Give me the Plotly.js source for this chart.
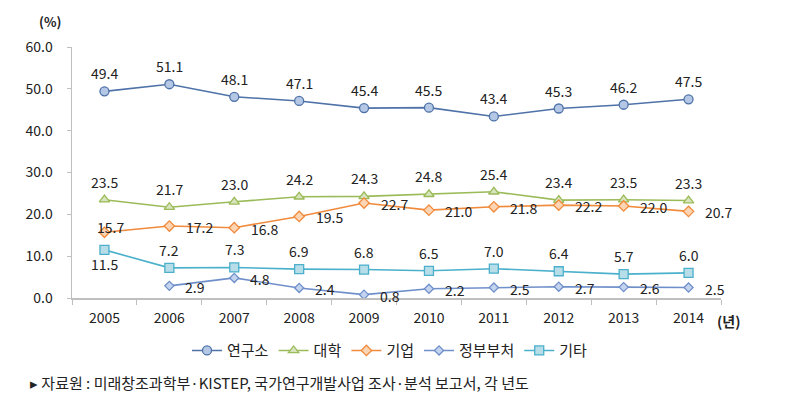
<!DOCTYPE html>
<html><head><meta charset="utf-8">
<script src="https://cdn.plot.ly/plotly-3.0.1.min.js"></script>
<style>html,body{margin:0;padding:0;background:#fff}#c{width:785px;height:409px}</style>
</head><body><div id="c"></div>
<script>
var years = ['2005','2006','2007','2008','2009','2010','2011','2012','2013','2014'];
var labInst = [49.4, 51.1, 48.1, 47.1, 45.4, 45.5, 43.4, 45.3, 46.2, 47.5];
var univ = [23.5, 21.7, 23.0, 24.2, 24.3, 24.8, 25.4, 23.4, 23.5, 23.3];
var corp = [15.7, 17.2, 16.8, 19.5, 22.7, 21.0, 21.8, 22.2, 22.0, 20.7];
var gov = [null, 2.9, 4.8, 2.4, 0.8, 2.2, 2.5, 2.7, 2.6, 2.5];
var etc = [11.5, 7.2, 7.3, 6.9, 6.8, 6.5, 7.0, 6.4, 5.7, 6.0];
var names = ['연구소', '대학', '기업', '정부부처', '기타'];

var FONT = '"Noto Sans CJK KR", "Noto Sans", sans-serif';
var series = [
  {y: labInst, line: '#4f72a8', fill: '#b4c8e6', sym: 'circle', size: 9, lab: 'above'},
  {y: univ, line: '#9bbb59', fill: '#d7e4bd', sym: 'triangle-up', size: 9, lab: 'above'},
  {y: corp, line: '#f08a3c', fill: '#fcd5b4', sym: 'diamond', size: 8, lab: 'right'},
  {y: gov, line: '#6f8fca', fill: '#c5d4ee', sym: 'diamond', size: 7, lab: 'right'},
  {y: etc, line: '#4bb0cb', fill: '#b7dde8', sym: 'square', size: 9, lab: 'above'}
];

var traces = series.map(function(s, i){
  return {x: years, y: s.y, name: names[i], type: 'scatter', mode: 'lines+markers',
    line: {color: s.line, width: 1.6},
    marker: {symbol: s.sym, size: s.size, color: s.fill, line: {color: s.line, width: 1.3}},
    connectgaps: false, hoverinfo: 'none'};
});

var ann = [];
series.forEach(function(s, i){
  s.y.forEach(function(v, j){
    if (v === null) return;
    var a = {x: j, y: v, xref: 'x', yref: 'y', text: v.toFixed(1), showarrow: false,
      font: {family: FONT, size: 14, color: '#222'}};
    if (s.lab === 'above') {
      a.yshift = 18;
      if (i === 4 && j === 0) a.yshift = -14;
    } else {
      a.xshift = (i === 2) ? 30 : 26;
      a.yshift = -1;
      if (i === 2 && j === 0) { a.xshift = 6; a.yshift = 5; }
    }
    ann.push(a);
  });
});
ann.push({xref: 'paper', yref: 'paper', x: -0.034, y: 1.1, xanchor: 'center', yanchor: 'middle',
  text: '<b>(%)</b>', showarrow: false, font: {family: FONT, size: 13, color: '#222'}});
ann.push({xref: 'paper', yref: 'paper', x: 0.99, y: -0.09, xanchor: 'left', yanchor: 'middle',
  text: '<b>(년)</b>', showarrow: false, font: {family: FONT, size: 14, color: '#222'}});
ann.push({xref: 'paper', yref: 'paper', x: -0.068, y: -0.335, xanchor: 'left', yanchor: 'middle',
  text: '▸ 자료원 : 미래창조과학부·KISTEP, 국가연구개발사업 조사·분석 보고서, 각 년도', showarrow: false,
  font: {family: FONT, size: 15, color: '#222'}});

var layout = {
  width: 785, height: 409,
  margin: {l: 72, r: 64, t: 47, b: 111},
  paper_bgcolor: '#fff', plot_bgcolor: '#fff',
  font: {family: FONT, size: 13, color: '#222'},
  showlegend: true,
  legend: {orientation: 'h', x: 0.49, xanchor: 'center', y: -0.21, yanchor: 'middle',
    font: {family: FONT, size: 15, color: '#222'}, itemwidth: 30, tracegroupgap: 0},
  xaxis: {type: 'category', range: [-0.5, 9.5], showgrid: false, zeroline: false,
    showline: true, linecolor: '#bfbfbf', linewidth: 1.5,
    ticks: 'outside', tickson: 'boundaries', ticklen: 5, tickcolor: '#bfbfbf',
    ticklabelstandoff: 7,
    tickfont: {family: FONT, size: 14, color: '#222'}},
  yaxis: {range: [0, 60], dtick: 10, tickformat: '.1f', showgrid: false, zeroline: false,
    showline: true, linecolor: '#bfbfbf', linewidth: 1.5,
    ticks: 'outside', ticklen: 4, tickcolor: '#bfbfbf',
    ticklabelstandoff: 11,
    tickfont: {family: FONT, size: 14, color: '#222'}},
  annotations: ann
};

Plotly.newPlot('c', traces, layout, {displayModeBar: false, staticPlot: true});
</script></body></html>
